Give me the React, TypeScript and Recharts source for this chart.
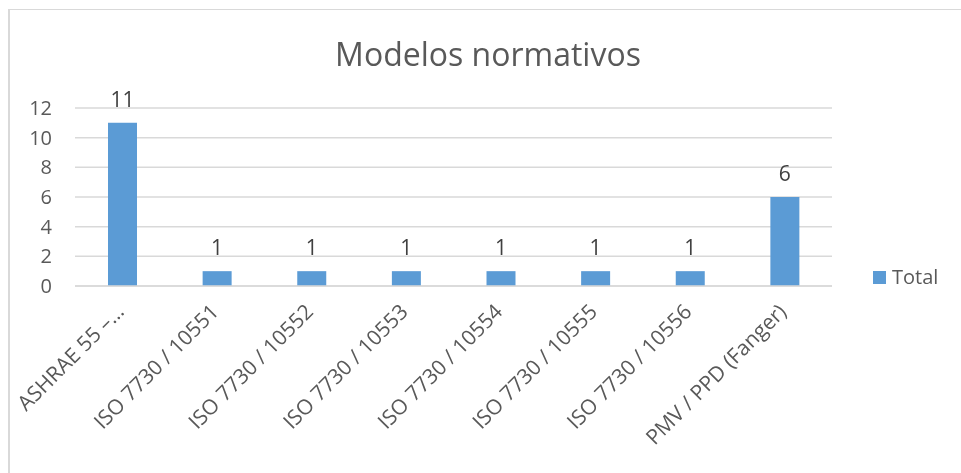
import React from "react";
import { BarChart, Bar, XAxis, YAxis, CartesianGrid, LabelList } from "recharts";

const categories = [
  "ASHRAE 55 –…",
  "ISO 7730 / 10551",
  "ISO 7730 / 10552",
  "ISO 7730 / 10553",
  "ISO 7730 / 10554",
  "ISO 7730 / 10555",
  "ISO 7730 / 10556",
  "PMV / PPD (Fanger)",
];
const totals = [11, 1, 1, 1, 1, 1, 1, 6];
const yTicks = [0, 2, 4, 6, 8, 10, 12];
const title = "Modelos normativos";
const seriesName = "Total";

const data = categories.map((c, i) => ({ name: c, Total: totals[i] }));

const FONT = "'Open Sans', sans-serif";
const TEXT = "#595959";
const BLUE = "#5B9BD5";
const GRID = "#D9D9D9";

const XTick = (props: any) => {
  const { x, payload } = props;
  const ax = x + 3;
  const ay = 313;
  return (
    <text
      x={ax}
      y={ay}
      transform={`rotate(-45, ${ax}, ${ay})`}
      textAnchor="end"
      fontSize={21}
      fontFamily={FONT}
      fill={TEXT}
    >
      {payload.value}
    </text>
  );
};

export default function App() {
  return (
    <>
      <div
        style={{
          position: "fixed",
          left: 8,
          top: 9,
          width: 953,
          height: 464,
          borderLeft: `2px solid ${GRID}`,
          borderTop: `1px solid ${GRID}`,
          boxSizing: "border-box",
        }}
      />
      <div style={{ position: "fixed", left: 0, top: 0, width: 961, height: 473 }}>
        <div
          style={{
            position: "absolute",
            left: 0,
            width: 976,
            top: 38,
            textAlign: "center",
            fontFamily: FONT,
            fontSize: 32,
            lineHeight: "32px",
            color: TEXT,
          }}
        >
          {title}
        </div>
        <div
          style={{
            position: "absolute",
            left: 873,
            top: 264,
            display: "flex",
            alignItems: "center",
            fontFamily: FONT,
            fontSize: 20,
            lineHeight: "26px",
            color: TEXT,
          }}
        >
          <span style={{ display: "inline-block", width: 13, height: 13, background: BLUE, marginRight: 6 }} />
          <span>{seriesName}</span>
        </div>
        <BarChart
          width={961}
          height={473}
          data={data}
          margin={{ top: 108, right: 129, bottom: 37, left: 35 }}
          barSize={29}
        >
          <CartesianGrid vertical={false} stroke={GRID} strokeWidth={1.5} />
          <XAxis
            dataKey="name"
            interval={0}
            height={150}
            axisLine={{ stroke: GRID, strokeWidth: 1.5 }}
            tickLine={false}
            tick={<XTick />}
          />
          <YAxis
            width={40}
            domain={[0, 12]}
            ticks={yTicks}
            interval={0}
            axisLine={false}
            tickLine={false}
            tickMargin={17}
            tick={{ fontSize: 20, fontFamily: FONT, fill: TEXT }}
          />
          <Bar dataKey="Total" fill={BLUE} isAnimationActive={false}>
            <LabelList
              dataKey="Total"
              position="top"
              offset={16}
              style={{ fontSize: 21, fontFamily: FONT, fill: "#404040" }}
            />
          </Bar>
        </BarChart>
      </div>
    </>
  );
}
